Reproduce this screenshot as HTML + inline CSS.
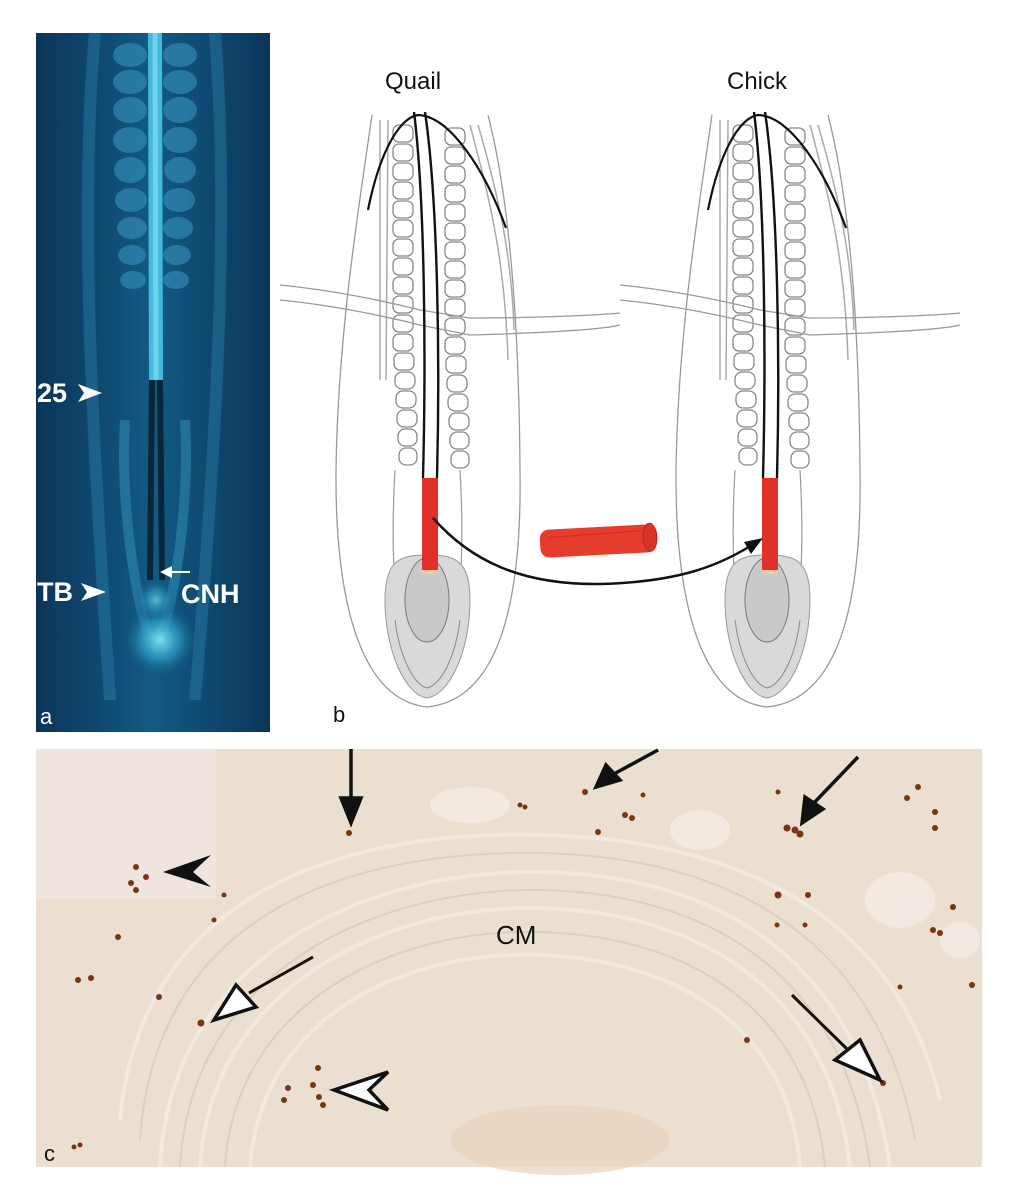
<!DOCTYPE html>
<html><head><meta charset="utf-8"><style>
html,body{margin:0;padding:0;background:#fff;}
svg{display:block;}
text{font-family:"Liberation Sans",Arial,sans-serif;}
</style></head><body>
<svg width="1021" height="1189" viewBox="0 0 1021 1189" xmlns="http://www.w3.org/2000/svg">
<defs>
<radialGradient id="glow" cx="0.5" cy="0.5" r="0.5">
<stop offset="0" stop-color="#7fe0f2"/><stop offset="0.5" stop-color="#2a9cc4" stop-opacity="0.7"/><stop offset="1" stop-color="#0d4470" stop-opacity="0"/>
</radialGradient>
<linearGradient id="bgA" x1="0" x2="1">
<stop offset="0" stop-color="#0b3559"/><stop offset="0.5" stop-color="#125a83"/><stop offset="1" stop-color="#0b3559"/>
</linearGradient>
<g id="somL">
<rect x="0" y="0" width="20" height="17" rx="6"/><rect x="0" y="19" width="20" height="17" rx="6"/><rect x="0" y="38" width="20" height="17" rx="6"/><rect x="0" y="57" width="20" height="17" rx="6"/><rect x="0" y="76" width="20" height="17" rx="6"/><rect x="0" y="95" width="20" height="17" rx="6"/><rect x="0" y="114" width="20" height="17" rx="6"/><rect x="0" y="133" width="20" height="17" rx="6"/><rect x="0" y="152" width="20" height="17" rx="6"/><rect x="0" y="171" width="20" height="17" rx="6"/><rect x="0" y="190" width="20" height="17" rx="6"/><rect x="0" y="209" width="20" height="17" rx="6"/><rect x="1" y="228" width="20" height="17" rx="6"/><rect x="2" y="247" width="20" height="17" rx="7"/><rect x="3" y="266" width="20" height="17" rx="7"/><rect x="4" y="285" width="20" height="17" rx="7"/><rect x="5" y="304" width="19" height="17" rx="7"/><rect x="6" y="323" width="18" height="17" rx="7"/>
</g>
<g id="emb" fill="none">
<path d="M372,115 C360,200 338,330 336,470 C335,600 360,700 427,707 C500,700 522,600 520,470 C519,330 510,200 488,115" stroke="#999" stroke-width="1.3"/>
<path d="M380,120 L380,380 M388,120 L386,380 M470,125 C490,200 505,260 508,360 M478,125 C500,200 512,260 514,330" stroke="#aaa" stroke-width="1.5"/>
<path d="M395,470 C390,560 395,620 410,660 M460,470 C465,560 460,620 445,660" stroke="#999" stroke-width="1.2"/>
<path d="M385,600 C385,560 400,555 427,555 C455,555 470,560 470,600 C470,650 450,695 427,698 C405,695 385,650 385,600Z" fill="#d9d9d9" stroke="#999"/>
<path d="M395,620 C400,660 415,685 427,688 C440,685 455,660 460,620" stroke="#888"/>
<ellipse cx="427" cy="600" rx="22" ry="42" fill="#c9c9c9" stroke="#777"/>
<g stroke="#888" stroke-width="1.3"><use href="#somL" x="393" y="125"/><use href="#somL" x="445" y="128"/></g>
<path d="M280,285 C330,290 380,300 420,310 L470,318 C540,318 600,315 620,313 M280,300 C330,305 380,315 420,325 L470,335 C540,333 600,330 620,325" stroke="#999" stroke-width="1.3"/>
<path d="M368,210 C380,150 400,118 418,115 C450,116 485,170 506,228" stroke="#111" stroke-width="2.2"/>
<path d="M414,112 C425,200 426,360 423,478 M425,112 C438,200 440,360 437,478" stroke="#111" stroke-width="2.4"/>
<rect x="422" y="478" width="16" height="92" fill="#e0302a"/>
<rect x="422" y="570" width="16" height="4" fill="#f6c8a8"/>
</g>
</defs>

<!-- Panel a -->
<rect x="36" y="33" width="234" height="699" fill="url(#bgA)"/>
<path d="M95,33 C80,200 90,400 110,700" stroke="#2e86b0" stroke-width="12" fill="none" opacity="0.4"/>
<path d="M215,33 C228,200 220,400 195,700" stroke="#2e86b0" stroke-width="12" fill="none" opacity="0.4"/>
<g fill="#3a98c2" opacity="0.55">
<ellipse cx="130" cy="55" rx="17" ry="12"/><ellipse cx="130" cy="82" rx="17" ry="12"/><ellipse cx="130" cy="110" rx="17" ry="13"/><ellipse cx="130" cy="140" rx="17" ry="13"/><ellipse cx="130" cy="170" rx="16" ry="13"/><ellipse cx="131" cy="200" rx="16" ry="12"/><ellipse cx="132" cy="228" rx="15" ry="11"/><ellipse cx="132" cy="255" rx="14" ry="10"/><ellipse cx="133" cy="280" rx="13" ry="9"/>
<ellipse cx="180" cy="55" rx="17" ry="12"/><ellipse cx="180" cy="82" rx="17" ry="12"/><ellipse cx="180" cy="110" rx="17" ry="13"/><ellipse cx="180" cy="140" rx="17" ry="13"/><ellipse cx="180" cy="170" rx="16" ry="13"/><ellipse cx="179" cy="200" rx="16" ry="12"/><ellipse cx="178" cy="228" rx="15" ry="11"/><ellipse cx="177" cy="255" rx="14" ry="10"/><ellipse cx="176" cy="280" rx="13" ry="9"/>
</g>
<path d="M155,33 L156,380" stroke="#45b9dd" stroke-width="14"/>
<path d="M155,33 L156,380" stroke="#6fd2ec" stroke-width="5"/>
<path d="M152,380 L150,580 M160,380 L162,580" stroke="#0a2438" stroke-width="6"/>
<path d="M125,420 C120,500 135,600 150,640 M185,420 C190,500 175,600 160,640" stroke="#3a98c2" stroke-width="10" fill="none" opacity="0.45"/>
<ellipse cx="160" cy="640" rx="40" ry="40" fill="url(#glow)"/>
<ellipse cx="156" cy="600" rx="22" ry="22" fill="url(#glow)" opacity="0.7"/>
<text x="37" y="402" font-size="27" font-weight="bold" fill="#fff">25</text>
<path d="M78,384 L102,393 L78,402 L84,393Z" fill="#fff"/>
<text x="37" y="601" font-size="27" font-weight="bold" fill="#fff">TB</text>
<path d="M81,583 L106,592 L81,601 L87,592Z" fill="#fff"/>
<path d="M162,572 L190,572" stroke="#fff" stroke-width="2"/><path d="M160,572 L172,566 L172,578Z" fill="#fff"/>
<text x="181" y="603" font-size="27" font-weight="bold" fill="#fff">CNH</text>
<text x="40" y="724" font-size="22" fill="#fff">a</text>

<!-- Panel b -->
<text x="385" y="89" font-size="24" fill="#111">Quail</text>
<text x="727" y="89" font-size="24" fill="#111">Chick</text>
<use href="#emb"/>
<use href="#emb" x="340"/>
<path d="M433,518 C470,560 520,585 600,584 C680,582 720,565 752,545" stroke="#111" stroke-width="2.5" fill="none"/>
<path d="M763,538 L744,542 L751,554Z" fill="#111"/>
<g transform="rotate(-3 598 540)">
<rect x="540" y="527" width="116" height="28" rx="9" fill="#e43d2e"/>
<ellipse cx="650" cy="540" rx="7" ry="14" fill="#d9342a" stroke="#b32a22"/>
<path d="M548,535 L640,533" stroke="#c72d24" stroke-width="1"/>
</g>
<text x="333" y="722" font-size="22" fill="#111">b</text>

<!-- Panel c -->
<rect x="36" y="749" width="946" height="418" fill="#ebdfd2"/>
<rect x="36" y="749" width="180" height="150" fill="#f0e6e1" opacity="0.8"/>
<g fill="none" stroke="#f4ece3" stroke-width="4" opacity="0.8">
<path d="M160,1167 C170,960 360,870 540,872 C720,875 860,960 890,1167"/>
<path d="M200,1167 C210,990 380,905 540,908 C700,912 830,990 850,1167"/>
<path d="M120,1120 C140,900 330,830 540,835 C760,840 900,930 940,1100"/>
<path d="M250,1167 C260,1020 400,950 540,955 C680,960 790,1030 800,1167"/>
</g>
<g fill="none" stroke="#ddcdbb" stroke-width="2" opacity="0.9">
<path d="M180,1167 C190,975 370,888 540,890 C710,893 845,975 870,1167"/>
<path d="M225,1167 C235,1005 390,928 540,932 C690,936 810,1010 825,1167"/>
<path d="M140,1140 C155,915 345,850 540,853 C740,857 880,945 915,1140"/>
</g>
<g fill="#f3ebe4" opacity="0.85">
<ellipse cx="900" cy="900" rx="35" ry="28"/><ellipse cx="960" cy="940" rx="20" ry="18"/>
<ellipse cx="700" cy="830" rx="30" ry="20"/><ellipse cx="470" cy="805" rx="40" ry="18"/>
</g>
<ellipse cx="560" cy="1140" rx="110" ry="35" fill="#e9d3bc" opacity="0.7"/>
<g fill="#7a3512">
<circle cx="349" cy="833" r="3"/>
<circle cx="136" cy="867" r="3"/><circle cx="146" cy="877" r="3"/><circle cx="131" cy="883" r="3"/><circle cx="136" cy="890" r="3"/>
<circle cx="118" cy="937" r="3"/><circle cx="78" cy="980" r="3"/><circle cx="91" cy="978" r="3"/><circle cx="159" cy="997" r="3"/>
<circle cx="201" cy="1023" r="3.5"/><circle cx="224" cy="895" r="2.5"/><circle cx="214" cy="920" r="2.5"/>
<circle cx="318" cy="1068" r="3"/><circle cx="313" cy="1085" r="3"/><circle cx="319" cy="1097" r="3"/><circle cx="323" cy="1105" r="3"/><circle cx="288" cy="1088" r="3"/><circle cx="284" cy="1100" r="3"/>
<circle cx="74" cy="1147" r="2.5"/><circle cx="80" cy="1145" r="2.5"/>
<circle cx="585" cy="792" r="3"/><circle cx="643" cy="795" r="2.5"/><circle cx="520" cy="805" r="2.5"/><circle cx="525" cy="807" r="2.5"/><circle cx="625" cy="815" r="3"/><circle cx="632" cy="818" r="3"/><circle cx="598" cy="832" r="3"/>
<circle cx="787" cy="828" r="3.5"/><circle cx="795" cy="830" r="3.5"/><circle cx="800" cy="834" r="3.5"/><circle cx="778" cy="792" r="2.5"/>
<circle cx="907" cy="798" r="3"/><circle cx="918" cy="787" r="3"/><circle cx="935" cy="812" r="3"/><circle cx="935" cy="828" r="3"/>
<circle cx="778" cy="895" r="3.5"/><circle cx="808" cy="895" r="3"/><circle cx="777" cy="925" r="2.5"/><circle cx="805" cy="925" r="2.5"/>
<circle cx="953" cy="907" r="3"/><circle cx="933" cy="930" r="3"/><circle cx="940" cy="933" r="3"/><circle cx="972" cy="985" r="3"/><circle cx="900" cy="987" r="2.5"/>
<circle cx="747" cy="1040" r="3"/><circle cx="883" cy="1083" r="3"/>
</g>
<!-- arrows -->
<g stroke="#111" stroke-width="3.5" fill="#111">
<line x1="351" y1="749" x2="351" y2="805"/><path d="M341,798 L351,823 L361,798Z"/>
<line x1="658" y1="750" x2="612" y2="775"/><path d="M596,787 L606,765 L620,780Z"/>
<line x1="858" y1="757" x2="812" y2="805"/><path d="M802,823 L805,797 L823,809Z"/>
</g>
<path d="M163,872 L211,855 L193,872 L211,887Z" fill="#111"/>
<g stroke="#111" stroke-width="3" fill="#fff">
<line x1="313" y1="957" x2="249" y2="993" fill="none"/>
<path d="M214,1020 L236,985 L256,1007Z" stroke-width="3.5"/>
<line x1="792" y1="995" x2="848" y2="1050" fill="none"/>
<path d="M880,1080 L835,1060 L860,1040Z" stroke-width="3.5"/>
<path d="M334,1090 L388,1072 L369,1090 L388,1110Z" stroke-width="3.5"/>
</g>
<text x="496" y="944" font-size="26" fill="#111">CM</text>
<text x="44" y="1161" font-size="22" fill="#111">c</text>
</svg>
</body></html>
